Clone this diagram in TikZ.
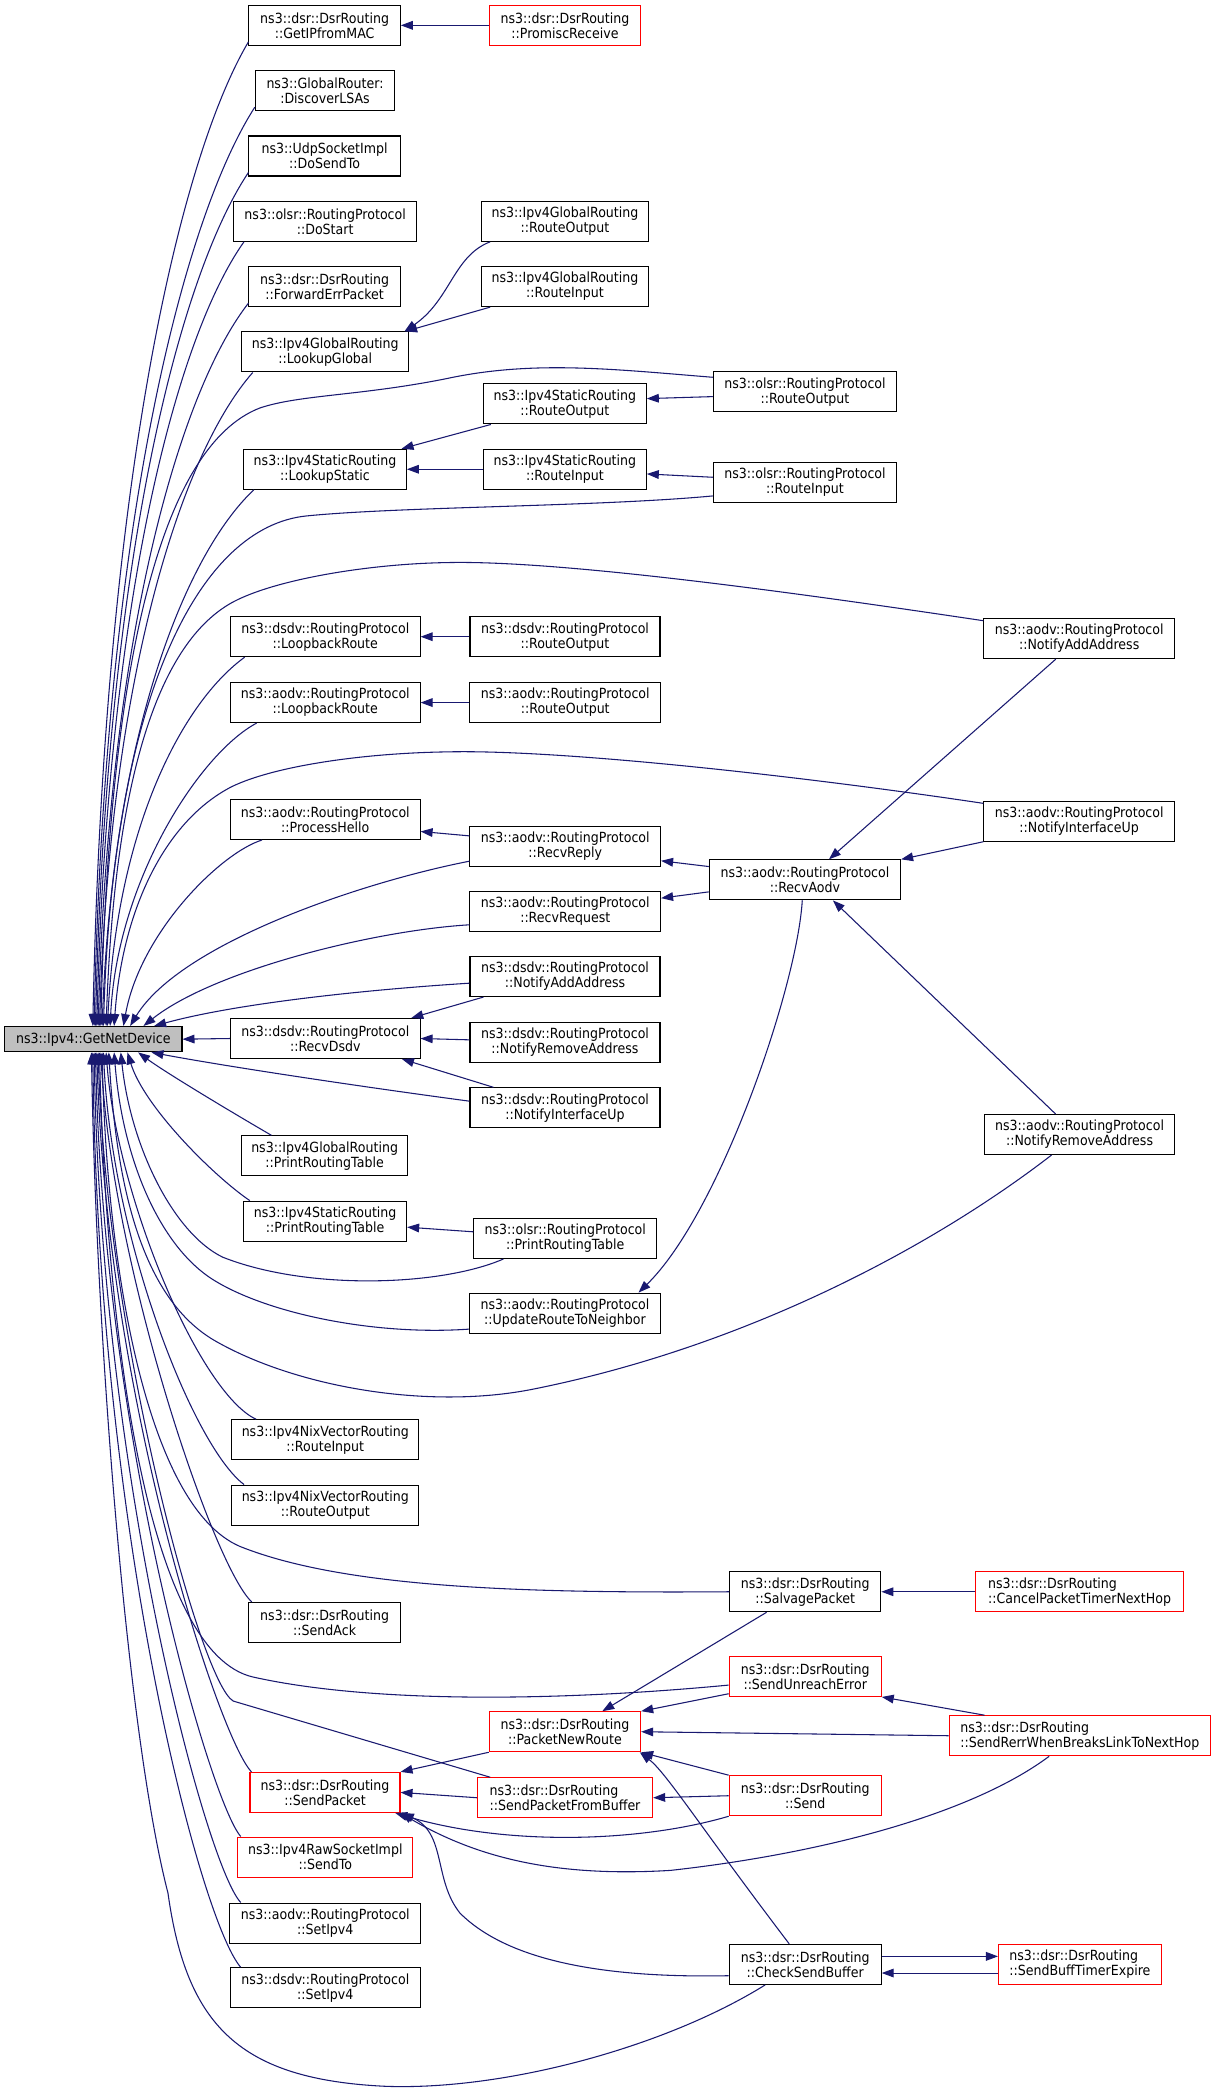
\documentclass[tikz,border=0pt]{standalone}
\usepackage{fontspec}
\setmainfont{DejaVu Sans}[FakeStretch=0.9]
\usepackage{xcolor}
\usetikzlibrary{arrows.meta}
\definecolor{edgeblue}{HTML}{191970}
\definecolor{rootgray}{HTML}{BFBFBF}
\tikzset{
  fn/.style={draw=black, fill=white, line width=0.8pt, rectangle, minimum height=30pt,
    inner xsep=2pt, inner ysep=1pt, align=center, font=\fontsize{10.5pt}{11.25pt}\selectfont},
  fnred/.style={fn, draw=red},
  fnleft/.style={align=left},
  call/.style={draw=edgeblue, line width=0.8pt, -{Triangle[length=9pt,width=6.5pt]}},
}

\begin{document}
\begin{tikzpicture}[x=1pt,y=-1pt]
  \path[use as bounding box, fill=white] (0,0) rectangle (912,1567);

  \draw (70,779.5)    node (root) [fn, fill=rootgray, minimum width=133pt, minimum height=19pt] {ns3::Ipv4::GetNetDevice};

  \draw (243.5,19)    node (ipmac)   [fn, minimum width=113.5pt] {ns3::dsr::DsrRouting\\::GetIPfromMAC};
  \draw (423.8,19)    node (promisc) [fnred, minimum width=113.5pt] {ns3::dsr::DsrRouting\\::PromiscReceive};
  \draw (243.8,68)    node (lsas)    [fn, minimum width=104.5pt] {ns3::GlobalRouter:\\:DiscoverLSAs};
  \draw (243.5,117)   node (udp)     [fn, minimum width=113.5pt] {ns3::UdpSocketImpl\\::DoSendTo};
  \draw (243.9,166)   node (dostart) [fn, minimum width=137pt] {ns3::olsr::RoutingProtocol\\::DoStart};
  \draw (423.8,166)   node (groute)  [fn, minimum width=125.5pt] {ns3::Ipv4GlobalRouting\\::RouteOutput};
  \draw (243.5,215)   node (fwderr)  [fn, minimum width=113.5pt] {ns3::dsr::DsrRouting\\::ForwardErrPacket};
  \draw (423.8,215)   node (ginput)  [fn, minimum width=125.5pt] {ns3::Ipv4GlobalRouting\\::RouteInput};
  \draw (244,264)     node (lookupg) [fn, minimum width=125pt] {ns3::Ipv4GlobalRouting\\::LookupGlobal};
  \draw (423.7,303)   node (sroute)  [fn, minimum width=122.2pt] {ns3::Ipv4StaticRouting\\::RouteOutput};
  \draw (603.8,294)   node (oroute)  [fn, minimum width=137.5pt] {ns3::olsr::RoutingProtocol\\::RouteOutput};
  \draw (243.8,352)   node (lookups) [fn, minimum width=122pt] {ns3::Ipv4StaticRouting\\::LookupStatic};
  \draw (423.7,352)   node (sinput)  [fn, minimum width=122.2pt] {ns3::Ipv4StaticRouting\\::RouteInput};
  \draw (603.8,362)   node (oinput)  [fn, minimum width=137.5pt] {ns3::olsr::RoutingProtocol\\::RouteInput};

  \draw (244,477.6)   node (dloop)   [fn, minimum width=142.2pt] {ns3::dsdv::RoutingProtocol\\::LoopbackRoute};
  \draw (423.8,477.6) node (droute)  [fn, minimum width=142.5pt] {ns3::dsdv::RoutingProtocol\\::RouteOutput};
  \draw (809.5,479)   node (aaddr)   [fn, minimum width=143pt] {ns3::aodv::RoutingProtocol\\::NotifyAddAddress};
  \draw (244,527)     node (aloop)   [fn, minimum width=142.2pt] {ns3::aodv::RoutingProtocol\\::LoopbackRoute};
  \draw (424,527)     node (aroute)  [fn, minimum width=143pt] {ns3::aodv::RoutingProtocol\\::RouteOutput};
  \draw (244,614.7)   node (hello)   [fn, minimum width=142.2pt] {ns3::aodv::RoutingProtocol\\::ProcessHello};
  \draw (809.5,616)   node (aup)     [fn, minimum width=143pt] {ns3::aodv::RoutingProtocol\\::NotifyInterfaceUp};
  \draw (424,635)     node (reply)   [fn, minimum width=143pt] {ns3::aodv::RoutingProtocol\\::RecvReply};
  \draw (603.8,660)   node (aodv)    [fn, minimum width=143.5pt] {ns3::aodv::RoutingProtocol\\::RecvAodv};
  \draw (424,683.7)   node (request) [fn, minimum width=143pt] {ns3::aodv::RoutingProtocol\\::RecvRequest};
  \draw (423.8,732.5) node (daddr)   [fn, minimum width=142.5pt] {ns3::dsdv::RoutingProtocol\\::NotifyAddAddress};
  \draw (244,779)     node (dsdv)    [fn, minimum width=142.2pt] {ns3::dsdv::RoutingProtocol\\::RecvDsdv};
  \draw (423.8,782)   node (dremove) [fn, minimum width=142.5pt] {ns3::dsdv::RoutingProtocol\\::NotifyRemoveAddress};
  \draw (423.8,831)   node (dup)     [fn, minimum width=142.5pt] {ns3::dsdv::RoutingProtocol\\::NotifyInterfaceUp};
  \draw (809.8,851)   node (aremove) [fn, minimum width=142.5pt] {ns3::aodv::RoutingProtocol\\::NotifyRemoveAddress};
  \draw (243.5,867)   node (gprint)  [fn, minimum width=125pt] {ns3::Ipv4GlobalRouting\\::PrintRoutingTable};
  \draw (243.9,916)   node (sprint)  [fn, minimum width=122.2pt] {ns3::Ipv4StaticRouting\\::PrintRoutingTable};
  \draw (424,929)     node (oprint)  [fn, minimum width=137pt] {ns3::olsr::RoutingProtocol\\::PrintRoutingTable};
  \draw (423.8,985)   node (update)  [fn, minimum width=143.5pt] {ns3::aodv::RoutingProtocol\\::UpdateRouteToNeighbor};
  \draw (244,1080)    node (nixin)   [fn, minimum width=140.2pt] {ns3::Ipv4NixVectorRouting\\::RouteInput};
  \draw (244,1129)    node (nixout)  [fn, minimum width=140.2pt] {ns3::Ipv4NixVectorRouting\\::RouteOutput};

  \draw (604,1194)    node (salvage) [fn, minimum width=113.5pt] {ns3::dsr::DsrRouting\\::SalvagePacket};
  \draw (809.8,1194)  node (cancel)  [fnred, fnleft, minimum width=155.5pt] {ns3::dsr::DsrRouting\\::CancelPacketTimerNextHop};
  \draw (243.5,1217)  node (sendack) [fn, minimum width=113.5pt] {ns3::dsr::DsrRouting\\::SendAck};
  \draw (604,1257.5)  node (unreach) [fnred, minimum width=114pt] {ns3::dsr::DsrRouting\\::SendUnreachError};
  \draw (423.8,1299)  node (newroute) [fnred, minimum width=113.5pt] {ns3::dsr::DsrRouting\\::PacketNewRoute};
  \draw (810,1302)    node (rerr)    [fnred, fnleft, minimum width=196pt] {ns3::dsr::DsrRouting\\::SendRerrWhenBreaksLinkToNextHop};
  \draw (243.8,1344.5) node (sendpkt) [fnred, minimum width=112.5pt] {ns3::dsr::DsrRouting\\::SendPacket};
  \draw (423.8,1348.5) node (frombuf) [fnred, fnleft, minimum width=131.5pt] {ns3::dsr::DsrRouting\\::SendPacketFromBuffer};
  \draw (604,1347)    node (send)    [fnred, minimum width=114pt] {ns3::dsr::DsrRouting\\::Send};
  \draw (244,1393)    node (raw)     [fnred, minimum width=131pt] {ns3::Ipv4RawSocketImpl\\::SendTo};
  \draw (244,1442.5)  node (aset)    [fn, minimum width=143pt] {ns3::aodv::RoutingProtocol\\::SetIpv4};
  \draw (604,1473.5)  node (check)   [fn, minimum width=114pt] {ns3::dsr::DsrRouting\\::CheckSendBuffer};
  \draw (810,1473.5)  node (expire)  [fnred, fnleft, minimum width=122pt] {ns3::dsr::DsrRouting\\::SendBuffTimerExpire};
  \draw (244,1491)    node (dset)    [fn, minimum width=142.2pt] {ns3::dsdv::RoutingProtocol\\::SetIpv4};

  \draw[call] ([yshift=3pt]ipmac.south west) .. controls (134,120) and (78,364) .. ([xshift=66.5pt]root.north west);
  \draw[call] ([yshift=3pt]lsas.south west) .. controls (138,163) and (79,390) .. ([xshift=67.5pt]root.north west);
  \draw[call] ([yshift=3pt]udp.south west) .. controls (135,206) and (80,417) .. ([xshift=68.5pt]root.north west);
  \draw[call] ([xshift=8pt]dostart.south west) .. controls (133,252) and (81,446) .. ([xshift=69.5pt]root.north west);
  \draw[call] ([yshift=3pt]fwderr.south west) .. controls (136,292) and (82,471) .. ([xshift=70.5pt]root.north west);
  \draw[call] ([xshift=8.5pt]lookupg.south west) .. controls (138,338) and (83,500) .. ([xshift=71.5pt]root.north west);
  \draw[call] ([yshift=11pt]oroute.west) .. controls (460,277) and (400,270) .. (335,284)
    .. controls (270,297) and (225,296) .. (195,306) .. controls (120,335) and (82,500) .. ([xshift=72.5pt]root.north west);
  \draw[call] ([xshift=8pt]lookups.south west) .. controls (140,415) and (85,548) .. ([xshift=73.5pt]root.north west);
  \draw[call] ([yshift=-10pt]oinput.west) .. controls (450,380) and (300,380) .. (230,387)
    .. controls (150,395) and (85,520) .. ([xshift=74.5pt]root.north west);
  \draw[call] ([yshift=-2pt]aaddr.north west) .. controls (600,445) and (420,420) .. (335,422)
    .. controls (275,423) and (205,435) .. (174,452) .. controls (120,482) and (86,580) .. ([xshift=76.5pt]root.north west);
  \draw[call] ([xshift=11pt]dloop.south west) .. controls (138,526) and (88,618) .. ([xshift=77.5pt]root.north west);
  \draw[call] ([xshift=20pt]aloop.south west) .. controls (150,565) and (88,660) .. ([xshift=79.5pt]root.north west);
  \draw[call] ([yshift=-2pt]aup.north west) .. controls (600,582) and (420,562) .. (335,564)
    .. controls (270,565) and (205,575) .. (174,590) .. controls (125,615) and (92,680) .. ([xshift=82.5pt]root.north west);
  \draw[call] ([xshift=24pt]hello.south west) .. controls (165,640) and (105,700) .. ([xshift=89.5pt]root.north west);
  \draw[call] ([yshift=-11pt]reply.west) .. controls (270,662) and (135,708) .. ([xshift=94.5pt]root.north west);
  \draw[call] ([yshift=-10pt]request.west) .. controls (280,698) and (160,728) .. ([xshift=104.5pt]root.north west);
  \draw[call] ([yshift=-5pt]daddr.west) .. controls (280,742) and (180,752) .. ([xshift=112.5pt]root.north west);
  \draw[call] (dsdv.west) -- (root.east);
  \draw[call] ([yshift=5pt]dup.west) .. controls (270,815) and (170,800) .. ([xshift=110.5pt]root.south west);
  \draw[call] ([xshift=23pt]gprint.north west) .. controls (175,835) and (125,805) .. ([xshift=100.5pt]root.south west);
  \draw[call] ([xshift=5pt]sprint.north west) .. controls (160,882) and (108,830) .. ([xshift=92.5pt]root.south west);
  \draw[call] ([xshift=22.5pt]oprint.south west) .. controls (330,965) and (230,968) .. (167,943)
    .. controls (130,925) and (98,860) .. ([xshift=87.5pt]root.south west);
  \draw[call] ([yshift=-12pt]update.west) .. controls (280,1002) and (200,985) .. (160,960)
    .. controls (120,935) and (92,870) .. ([xshift=82.5pt]root.south west);
  \draw[call] ([xshift=-21pt]aremove.south) .. controls (700,935) and (560,1010) .. (400,1042)
    .. controls (320,1058) and (220,1040) .. (160,1005) .. controls (110,975) and (88,900) .. ([xshift=78.5pt]root.south west);
  \draw[call] ([xshift=18.6pt]nixin.north west) .. controls (150,1045) and (88,900) .. ([xshift=76.5pt]root.south west);
  \draw[call] ([xshift=9.6pt]nixout.north west) .. controls (145,1085) and (84,930) .. ([xshift=74.5pt]root.south west);
  \draw[call] (salvage.west) .. controls (400,1195) and (260,1192) .. (180,1160)
    .. controls (110,1130) and (80,950) .. ([xshift=73.5pt]root.south west);
  \draw[call] ([xshift=2.5pt]sendack.north west) .. controls (160,1175) and (84,950) .. ([xshift=72.5pt]root.south west);
  \draw[call] ([yshift=-6.5pt]unreach.west) .. controls (420,1276) and (280,1278) .. (190,1258)
    .. controls (110,1240) and (80,1000) .. ([xshift=71.5pt]root.south west);
  \draw[call] ([xshift=10pt]frombuf.north west) -- (175,1276) .. controls (150,1262) and (80,1000) .. ([xshift=70.5pt]root.south west);
  \draw[call] ([xshift=1.5pt]sendpkt.north west) .. controls (165,1305) and (80,1050) .. ([xshift=69.5pt]root.south west);
  \draw[call] ([xshift=2.5pt]raw.north west) .. controls (158,1352) and (78,1080) .. ([xshift=68.5pt]root.south west);
  \draw[call] ([xshift=8.5pt]aset.north west) .. controls (155,1400) and (76,1110) .. ([xshift=67.5pt]root.south west);
  \draw[call] ([xshift=8pt]dset.north west) .. controls (150,1440) and (74,1150) .. ([xshift=66.5pt]root.south west);
  \draw[call] ([xshift=-30pt]check.south) .. controls (500,1535) and (380,1568) .. (290,1565)
    .. controls (180,1560) and (140,1520) .. (126,1420) .. controls (95,1300) and (72,1000) .. ([xshift=65.5pt]root.south west);

  \draw[call] (promisc.west) -- (ipmac.east);
  \draw[call] ([xshift=7pt]groute.south west) .. controls (340,192) and (338,225) .. ([xshift=-3.5pt]lookupg.north east);
  \draw[call] ([xshift=7pt]ginput.south west) -- ([xshift=-3pt]lookupg.north east);
  \draw[call] ([xshift=6pt]sroute.south west) -- ([xshift=-4pt]lookups.north east);
  \draw[call] (sinput.west) -- (lookups.east);
  \draw[call] ([yshift=-3.5pt]oroute.west) -- ([yshift=4pt]sroute.east);
  \draw[call] ([yshift=4pt]oinput.west) -- ([yshift=-3.5pt]sinput.east);
  \draw[call] (droute.west) -- (dloop.east);
  \draw[call] (aroute.west) -- (aloop.east);
  \draw[call] ([yshift=8pt]reply.west) -- ([yshift=-9pt]hello.east);
  \draw[call] ([yshift=10pt]aodv.west) -- ([yshift=-10.7pt]reply.east);
  \draw[call] ([yshift=-9pt]aodv.west) -- ([yshift=10pt]request.east);
  \draw[call] ([xshift=-17.5pt]aaddr.south) -- ([xshift=18pt]aodv.north);
  \draw[call] (aup.south west) -- (aodv.north east);
  \draw[call] ([xshift=-18pt]aremove.north) -- ([xshift=21pt]aodv.south);
  \draw[call] ([xshift=-2pt]aodv.south) .. controls (598,740) and (540,910) .. ([xshift=-17pt]update.north east);
  \draw[call] ([xshift=10.5pt]daddr.south west) -- ([xshift=-7pt]dsdv.north east);
  \draw[call] ([yshift=2pt]dremove.west) -- (dsdv.east);
  \draw[call] ([xshift=18pt]dup.north west) -- ([xshift=-14pt]dsdv.south east);
  \draw[call] ([yshift=5pt]oprint.west) -- ([yshift=-4.5pt]sprint.east);

  \draw[call] (cancel.west) -- (salvage.east);
  \draw[call] ([xshift=-29pt]salvage.south) -- ([xshift=28pt]newroute.north);
  \draw[call] ([yshift=-13pt]unreach.west) -- (newroute.north east);
  \draw[call] ([xshift=27pt]rerr.north west) -- (unreach.south east);
  \draw[call] (rerr.west) -- (newroute.east);
  \draw[call] (send.north west) -- (newroute.south east);
  \draw[call] ([xshift=-12pt]check.north) .. controls (525,1370) and (500,1330) .. ([xshift=-1pt]newroute.south east);
  \draw[call] (newroute.south west) -- (sendpkt.north east);
  \draw[call] (frombuf.west) -- (sendpkt.east);
  \draw[call] (send.west) -- (frombuf.east);
  \draw[call] (send.south west) .. controls (480,1382) and (380,1385) .. ([xshift=-4pt]sendpkt.south east);
  \draw[call] ([xshift=-23pt]rerr.south) .. controls (730,1360) and (620,1390) .. (503,1403)
    .. controls (420,1408) and (360,1395) .. (sendpkt.south east);
  \draw[call] ([yshift=-8.5pt]check.west) .. controls (450,1484) and (380,1470) .. (345,1435)
    .. controls (325,1410) and (335,1375) .. ([xshift=1pt]sendpkt.south east);
  \draw[call] ([yshift=6pt]check.east) -- ([yshift=6pt]expire.west);
  \draw[call] ([yshift=-6.5pt]expire.west) -- ([yshift=-6.5pt]check.east);
\end{tikzpicture}
\end{document}
